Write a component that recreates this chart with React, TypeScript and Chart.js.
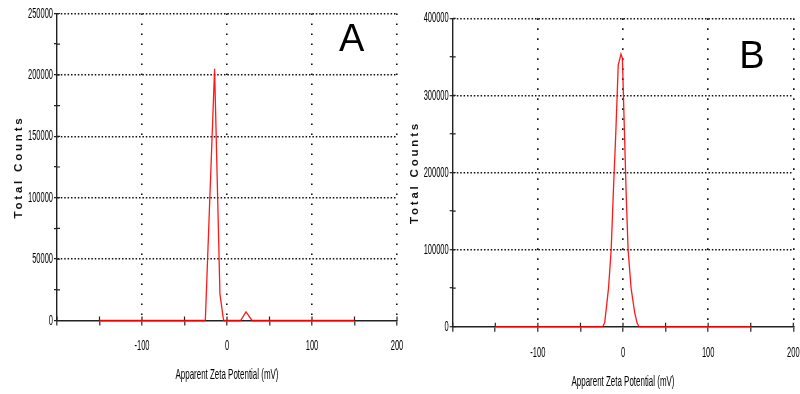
import React, { useEffect, useRef } from "react";
import { Chart, registerables } from "chart.js";

Chart.register(...registerables);

// ---- Data ----
// Panel A: apparent zeta potential (mV) vs total counts
const panelAZeta = [-150, -25.5, -14.6, -8.3, -4, 16, 22.3, 29.5, 150];
const panelACounts = [0, 0, 205000, 21500, 0, 0, 7000, 0, 0];

// Panel B
const panelBZeta = [-150, -24, -21.5, -17, -13.9, -11.5, -8.5, -5.6, -2.4, -0.7, 1.5, 3.8, 6, 9.5, 13.8, 16.5, 18.8, 150];
const panelBCounts = [0, 0, 5000, 50000, 99500, 170000, 250000, 339400, 353700, 348000, 260000, 170000, 99500, 50000, 17800, 5000, 0, 0];

// Axis ticks
const xLabelValues = [-100, 0, 100, 200];
const panelAYTicks = [0, 50000, 100000, 150000, 200000, 250000];
const panelBYTicks = [0, 100000, 200000, 300000, 400000];

const panelLetters = ["A", "B"];
const xTitle = "Apparent Zeta Potential (mV)";
const yTitle = "Total Counts";

const tickFont = "'Liberation Sans', Arial, sans-serif";
const titleFont = "'Liberation Sans', Arial, sans-serif";

type PanelCfg = {
  zeta: number[];
  counts: number[];
  yTicks: number[];
  yMax: number;
  yMinorStep: number;
  letter: string;
  letterAt: [number, number];
  canvasLeft: number;
  canvasWidth: number;
  padTop: number;
  padRight: number;
  yAxisWidth: number;
  xAxisHeight: number;
  xTickPad: number;
  xTitlePadBottom: number;
  yTitlePadTop: number;
};

const panels: PanelCfg[] = [
  {
    zeta: panelAZeta,
    counts: panelACounts,
    yTicks: panelAYTicks,
    yMax: 250000,
    yMinorStep: 25000,
    letter: panelLetters[0],
    letterAt: [146.8, 227600],
    canvasLeft: 0,
    canvasWidth: 420,
    padTop: 13.5,
    padRight: 23,
    yAxisWidth: 57,
    xAxisHeight: 73.5,
    xTickPad: 11,
    xTitlePadBottom: 10,
    yTitlePadTop: 12.1,
  },
  {
    zeta: panelBZeta,
    counts: panelBCounts,
    yTicks: panelBYTicks,
    yMax: 400000,
    yMinorStep: 50000,
    letter: panelLetters[1],
    letterAt: [151.4, 348500],
    canvasLeft: 400,
    canvasWidth: 400,
    padTop: 18.3,
    padRight: 6.7,
    yAxisWidth: 52.7,
    xAxisHeight: 67.3,
    xTickPad: 12.5,
    xTitlePadBottom: 3.5,
    yTitlePadTop: 8.1,
  },
];

// Wrap a scale drawing method so its text is drawn horizontally condensed
// and/or letter-spaced (the reference uses squeezed text).
function wrapText(scale: any, method: string, squeeze: number, spacing: string) {
  const orig = scale[method];
  scale[method] = function (...args: any[]) {
    const ctx: any = this.ctx;
    const protoFill = CanvasRenderingContext2D.prototype.fillText;
    ctx.save();
    try {
      ctx.letterSpacing = spacing;
    } catch (e) {}
    if (squeeze !== 1) {
      ctx.fillText = function (t: string, x: number, y: number) {
        this.save();
        this.translate(x, y);
        this.scale(squeeze, 1);
        protoFill.call(this, t, 0, 0);
        this.restore();
      };
    }
    try {
      orig.apply(this, args);
    } finally {
      delete ctx.fillText;
      ctx.restore();
    }
  };
}

const textStyle = {
  id: "textStyle",
  beforeDraw(chart: any) {
    const x: any = chart.scales.x;
    const y: any = chart.scales.y;
    if (x && !x.__patched) {
      wrapText(x, "drawLabels", 0.5, "0px");
      wrapText(x, "drawTitle", 0.53, "0px");
      x.__patched = true;
    }
    if (y && !y.__patched) {
      wrapText(y, "drawLabels", 0.5, "0px");
      wrapText(y, "drawTitle", 1, "2.8px");
      y.__patched = true;
    }
  },
};

const innerTicks = {
  id: "innerTicks",
  beforeDatasetsDraw(chart: any) {
    const { ctx, scales, chartArea } = chart;
    const x = scales.x;
    const y = scales.y;
    ctx.save();
    ctx.strokeStyle = "#222";
    ctx.lineWidth = 1.2;
    ctx.beginPath();
    x.ticks.forEach((t: any) => {
      const px = x.getPixelForValue(t.value);
      ctx.moveTo(px, chartArea.bottom);
      ctx.lineTo(px, chartArea.bottom - 4);
    });
    y.ticks.forEach((t: any) => {
      const py = y.getPixelForValue(t.value);
      ctx.moveTo(chartArea.left, py);
      ctx.lineTo(chartArea.left + 3, py);
    });
    ctx.stroke();
    ctx.restore();
  },
};

const letterPlugin = {
  id: "panelLetter",
  afterDraw(chart: any, _args: any, opts: any) {
    const { ctx, scales } = chart;
    const px = scales.x.getPixelForValue(opts.x);
    const py = scales.y.getPixelForValue(opts.y);
    ctx.save();
    ctx.fillStyle = "#000";
    ctx.font = `38px ${titleFont}`;
    ctx.textAlign = "center";
    ctx.textBaseline = "middle";
    ctx.fillText(opts.text, px, py);
    ctx.restore();
  },
};

function Panel({ cfg }: { cfg: PanelCfg }) {
  const ref = useRef<HTMLCanvasElement | null>(null);
  useEffect(() => {
    if (!ref.current) return;
    const points = cfg.zeta.map((z, i) => ({ x: z, y: cfg.counts[i] }));
    const chart = new Chart(ref.current, {
      type: "line",
      data: {
        datasets: [
          {
            data: points,
            borderColor: "rgba(255,0,0,0.9)",
            borderWidth: 1.3,
            pointRadius: 0,
            tension: 0,
            fill: false,
            clip: false as any,
          },
        ],
      },
      plugins: [textStyle, innerTicks, letterPlugin],
      options: {
        responsive: false,
        animation: false,
        events: [],
        layout: { padding: { top: cfg.padTop, right: cfg.padRight, left: 0, bottom: 0 } },
        plugins: {
          legend: { display: false },
          tooltip: { enabled: false },
          panelLetter: { text: cfg.letter, x: cfg.letterAt[0], y: cfg.letterAt[1] },
        } as any,
        scales: {
          x: {
            type: "linear",
            min: -200,
            max: 200,
            afterFit: (s: any) => {
              s.height = cfg.xAxisHeight;
              s.paddingLeft = 0;
              s.paddingRight = 0;
            },
            ticks: {
              stepSize: 50,
              autoSkip: false,
              maxRotation: 0,
              padding: cfg.xTickPad,
              color: "#000",
              font: { family: tickFont, size: 15 },
              callback: (v: any) => (xLabelValues.includes(Number(v)) ? String(v) : ""),
            },
            grid: {
              color: (c: any) => {
                const v = c.tick ? c.tick.value : 0;
                return v % 100 === 0 && v !== -200 ? "#111" : "rgba(0,0,0,0)";
              },
              lineWidth: 1.6,
              drawTicks: true,
              tickLength: 5,
              tickColor: "#222",
              tickWidth: 1.2,
            },
            border: { display: true, color: "#222", width: 1.6, dash: [1.6, 8.4] },
            title: {
              display: true,
              text: xTitle,
              color: "#000",
              font: { family: tickFont, size: 15 },
              padding: { top: 0, bottom: cfg.xTitlePadBottom },
            },
          },
          y: {
            type: "linear",
            min: 0,
            max: cfg.yMax,
            afterFit: (s: any) => {
              s.width = cfg.yAxisWidth;
              s.paddingTop = 0;
              s.paddingBottom = 0;
            },
            ticks: {
              stepSize: cfg.yMinorStep,
              autoSkip: false,
              padding: 1,
              color: "#000",
              font: { family: tickFont, size: 15 },
              callback: (v: any) => (cfg.yTicks.includes(Number(v)) ? String(v) : ""),
            },
            grid: {
              color: (c: any) => {
                const v = c.tick ? c.tick.value : 0;
                return cfg.yTicks.includes(v) && v !== 0 ? "#111" : "rgba(0,0,0,0)";
              },
              lineWidth: 1.4,
              drawTicks: true,
              tickLength: 3,
              tickColor: "#222",
              tickWidth: 1.2,
            },
            border: { display: true, color: "#222", width: 1.4, dash: [1.5, 1.9] },
            title: {
              display: true,
              text: yTitle,
              color: "#111",
              font: { family: titleFont, size: 11.5, weight: "bold" },
              padding: { top: cfg.yTitlePadTop, bottom: 0 },
            },
          },
        },
      },
    });
    return () => chart.destroy();
  }, [cfg]);
  return (
    <canvas
      ref={ref}
      width={cfg.canvasWidth}
      height={394}
      style={{ position: "absolute", left: cfg.canvasLeft, top: 0, width: cfg.canvasWidth, height: 394 }}
    />
  );
}

export default function App() {
  return (
    <div style={{ position: "fixed", left: 0, top: 0, width: 800, height: 394, background: "#fff", overflow: "hidden" }}>
      {panels.map((p, i) => (
        <Panel key={i} cfg={p} />
      ))}
    </div>
  );
}
